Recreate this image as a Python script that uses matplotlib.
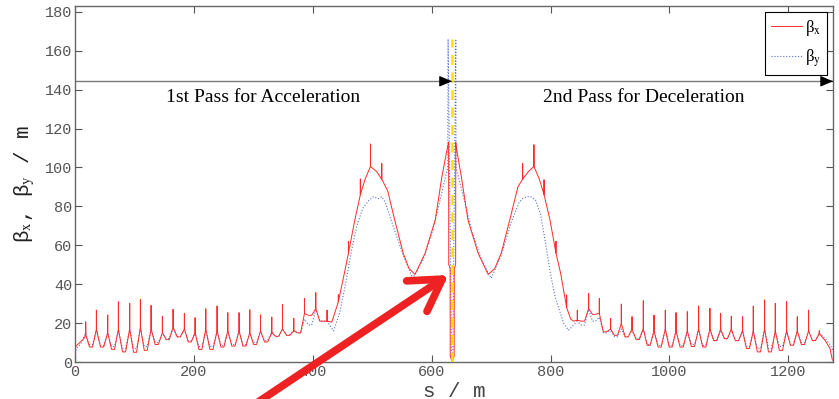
import matplotlib.pyplot as plt
from matplotlib.font_manager import FontProperties

# ---------------- data ----------------
# left arc cells: spike position, peak base, spike top, minimum after the cell
arcL_s = [18, 36, 55, 73, 92, 110, 128, 147, 165, 184, 202, 220, 239, 257, 276,
          294, 312, 331, 349, 368, 386, 405, 424]
arcL_peak_x = [14, 17, 15, 17, 17, 18, 17, 15, 18, 17, 15, 17, 16, 16, 16, 15,
               16, 15, 17, 16, 25, 27.5, 21]
arcL_spike_x = [20.6, 26.6, 24.1, 30.9, 30.1, 32.1, 29.0, 23.5, 27.0, 24.9, 22.7,
                27.3, 28.7, 25.3, 25.3, 26.8, 24.1, 23.0, 29.4, 22.3, 32.6, 35.6, 26.6]
arcL_min_x = [7.7, 7.7, 6.5, 5.2, 5.0, 6.0, 9.0, 11.5, 12.9, 10.3, 6.5, 6.5, 7.7,
              8.2, 8.2, 9.0, 10.3, 13.2, 13.7, 15.0, 24.0, 21.0]
arcL_peak_y = [15, 16, 15, 16, 17, 17, 17, 15, 17, 17, 15, 16, 16, 16, 16, 15,
               16, 16, 17, 16, 22, 27, 21]
arcL_min_y = [9, 8.5, 8, 7, 7, 8, 10, 12, 13, 11, 8, 8, 8.5, 9, 9, 10, 11, 13,
              14, 15, 19, 21]

# right arc cells
arcR_s = [845, 864, 882, 901, 919, 937, 956, 974, 993, 1011, 1030, 1049, 1068,
          1086, 1104, 1123, 1141, 1160, 1178, 1197, 1215, 1234, 1252]
arcR_peak_x = [21.5, 27.5, 25, 17, 19.8, 17, 17, 16, 17, 16, 16, 17, 17, 17, 17,
               16, 16, 17, 16, 16, 16, 16, 14.6]
arcR_spike_x = [26.6, 35.2, 32.6, 22.3, 29.7, 23.2, 31.4, 24.0, 26.6, 25.3, 25.8,
                28.7, 27.5, 24.9, 23.5, 23.2, 28.7, 31.8, 30.0, 31.0, 23.2, 26.6, 16.0]
arcR_min_x = [21, 24.5, 15.5, 13.7, 12.9, 11.5, 8.6, 7.7, 7.7, 7.7, 8.0, 7.7, 11,
              12, 11, 6.9, 5.2, 5.2, 6.0, 8.6, 9.0, 11]
arcR_peak_y = [21, 27, 23, 16, 17, 16, 17, 16, 17, 16, 16, 17, 17, 16, 16, 16,
               16, 17, 16, 16, 16, 16, 15]
arcR_min_y = [19, 21, 15, 13, 13, 12, 9, 8.5, 8.5, 8.5, 9, 8.5, 11, 12, 11, 8, 7,
              7, 8, 9, 10, 11]

# start and end of the line
start_s_x = [0, 1, 8, 15]
start_x = [0, 8, 10, 12]
start_s_y = [0, 2, 9, 15]
start_y = [3, 7, 9, 13]
end_s_x = [1262, 1270, 1274]
end_x = [11, 7, 1]
end_s_y = [1262, 1270, 1275]
end_y = [12, 9, 6]

# insertion region between the arcs (spikes given as repeated s)
mid_s_x = [432, 443, 443, 443, 452, 460, 460, 460, 470, 480, 480, 480, 488, 497,
           497, 497, 507, 516, 516, 516, 526, 537, 552, 562, 572, 589, 606, 617,
           627, 628.5, 628.7, 631, 631.2, 634.5, 637.8, 638, 640.3, 640.5, 641,
           650, 661, 678, 695, 706, 717, 733, 745, 753, 753, 753, 763, 772, 772,
           772, 781, 789, 789, 789, 799, 809, 809, 809, 817, 827, 827, 827, 834, 839]
mid_x = [20.5, 31, 34.5, 31, 44, 56, 62, 56, 72, 86, 94, 86, 94, 100.5,
         112, 100.5, 98, 94, 102, 94, 88, 74, 56, 48, 45, 56, 73, 95,
         111, 113, 50, 48, 3, 0, 3, 48, 50, 113, 111,
         95, 73, 56, 45, 48, 56, 75, 90, 94, 102, 94, 98, 100.5, 111.6,
         100.5, 94, 86, 93.6, 86, 73, 56, 62, 56, 45.5, 28, 34.4, 28, 22, 21]
mid_s_y = [435, 445, 455, 465, 474, 484, 494, 502, 510, 516, 522, 535, 552, 568,
           586, 602, 614, 627, 627.6, 633.5, 635.5, 640.5, 641, 655, 667, 683,
           700, 717, 734, 747, 753, 760, 767, 775, 783, 791, 800, 808, 822, 830]
mid_y = [16, 25, 40, 57, 70, 79, 83, 85, 84, 85, 82, 70, 55, 43,
         53, 68, 83, 100, 166, 2, 2, 166, 100, 83, 68, 53,
         43, 55, 72, 82, 84, 85, 85, 83, 76, 62, 45, 33, 20, 16.3]

# marker line at the interaction point, pass arrow level, annotations
ip_s = 634.5
ip_top = 166
pass_level = 144.3
pass_arrow_s = [634, 1275]
pass_labels = ['1st Pass for Acceleration', '2nd Pass for Deceleration']
pass_label_s = [317, 957]
pass_label_v = 136
pointer_tip = (632, 45.5)

xticks = [0, 200, 400, 600, 800, 1000, 1200]
yticks = [0, 20, 40, 60, 80, 100, 120, 140, 160, 180]


def build(start_s, start_v, cells_s, peak, spike, mins, tail_s, tail_v):
    # join the read points: peak (with spike), flat-ish bottom, next peak
    s, v = list(start_s), list(start_v)
    for k in range(len(cells_s)):
        if spike is None:
            s.append(cells_s[k]); v.append(peak[k])
        else:
            s += [cells_s[k]] * 3
            v += [peak[k], spike[k], peak[k]]
        if k < len(mins):
            gap = cells_s[k + 1] - cells_s[k]
            s += [cells_s[k] + 0.36 * gap, cells_s[k] + 0.64 * gap]
            v += [mins[k], mins[k]]
    return s + list(tail_s), v + list(tail_v)


bx_s, bx = build(start_s_x, start_x, arcL_s, arcL_peak_x, arcL_spike_x, arcL_min_x,
                 mid_s_x, mid_x)
r_s, r_v = build([], [], arcR_s, arcR_peak_x, arcR_spike_x, arcR_min_x, end_s_x, end_x)
bx_s += r_s; bx += r_v

by_s, by = build(start_s_y, start_y, arcL_s, arcL_peak_y, None, arcL_min_y,
                 mid_s_y, mid_y)
r_s, r_v = build([], [], arcR_s, arcR_peak_y, None, arcR_min_y, end_s_y, end_y)
by_s += r_s; by += r_v

# ---------------- figure ----------------
fig = plt.figure(figsize=(8.39, 3.99), dpi=100)
ax = fig.add_axes([0.0894, 0.0927, 0.9034, 0.8923])

mono = 'Liberation Mono'
ax.plot(bx_s, bx, color='#ff2a2a', lw=0.7, label='β$_\\mathrm{x}$', zorder=3)
ax.plot(by_s, by, color='#5570c8', lw=0.8, ls=':', label='β$_\\mathrm{y}$', zorder=2)
ax.plot([ip_s, ip_s], [0, ip_top], color='#ffe000', lw=1.8, ls=(0, (4, 3)), zorder=4)

# pass arrow
ax.plot([0, 1275], [pass_level, pass_level], color='#7a7a7a', lw=1.0, zorder=1)
for s in pass_arrow_s:
    ax.annotate('', xy=(s, pass_level), xytext=(s - 2, pass_level),
                arrowprops=dict(arrowstyle='-|>,head_length=0.7,head_width=0.3',
                                color='k', lw=0.8, mutation_scale=11),
                annotation_clip=False, zorder=5)
for txt, s in zip(pass_labels, pass_label_s):
    ax.text(s, pass_label_v, txt, ha='center', va='center',
            family='Liberation Serif', fontsize=14)

ax.set_xlim(0, 1275)
ax.set_ylim(0, 183)
ax.set_xticks(xticks)
ax.set_yticks(yticks)
ax.tick_params(direction='in', length=5, width=0.8, top=True, right=True,
               colors='#555555', labelsize=11, pad=2)
for lab in ax.get_xticklabels() + ax.get_yticklabels():
    lab.set_family(mono)
for sp in ax.spines.values():
    sp.set_color('#666666')
    sp.set_linewidth(1.0)

lab_fp = FontProperties(family=mono, size=15, math_fontfamily='stix')
ax.set_xlabel('s / m', fontproperties=lab_fp, color='#444444', labelpad=2)
ax.set_ylabel('β$_\\mathrm{x}$, β$_\\mathrm{y}$ / m', fontproperties=lab_fp,
              color='#222222', labelpad=6)

leg_fp = FontProperties(family='Liberation Serif', size=12, math_fontfamily='stix')
leg = ax.legend(loc='upper right', prop=leg_fp, fancybox=False, framealpha=1,
                edgecolor='k', handlelength=1.9, borderaxespad=0.35,
                handletextpad=0.15, borderpad=0.35, labelspacing=0.6)
leg.get_frame().set_linewidth(0.8)

# big red pointer
ax.annotate('', xy=pointer_tip, xycoords='data', xytext=(0.291, -0.031),
            textcoords='figure fraction',
            arrowprops=dict(arrowstyle='->,head_length=1.0,head_width=0.6',
                            color='#ee2222', lw=5.5, mutation_scale=22,
                            capstyle='round', joinstyle='round'),
            annotation_clip=False, zorder=6)

fig.savefig('out.png', dpi=100)
